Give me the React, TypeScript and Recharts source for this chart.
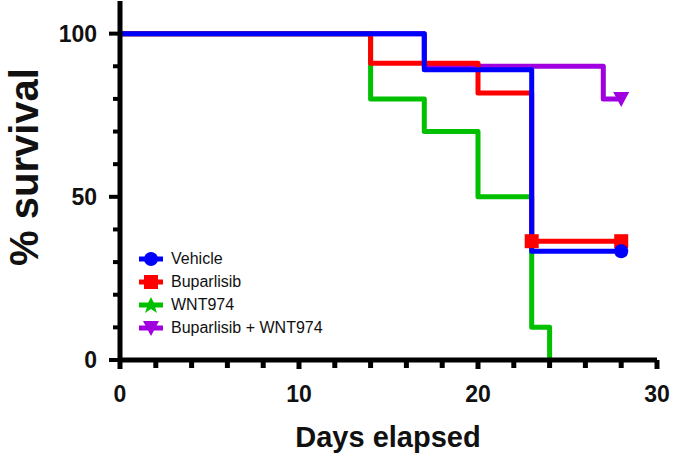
import React from "react";
import { LineChart, Line, XAxis, YAxis, Label } from "recharts";

// days on x, % survival on y (Kaplan-Meier steps)
const X_TICKS = [0, 2, 4, 6, 8, 10, 12, 14, 16, 18, 20, 22, 24, 26, 28, 30];
const Y_TICKS = [0, 10, 20, 30, 40, 50, 60, 70, 80, 90, 100];

const vehicleDays = [0, 17, 23, 28];
const vehicleSurv = [100, 88.9, 33.3, 33.3];
const vehicleMarks = [false, false, false, true];

const buparDays = [0, 14, 20, 23, 28];
const buparSurv = [100, 90.9, 81.8, 36.4, 36.4];
const buparMarks = [false, false, false, true, true];

const wntDays = [0, 14, 17, 20, 23, 24];
const wntSurv = [100, 80, 70, 50, 10, 0];

const comboDays = [0, 17, 27, 28];
const comboSurv = [100, 90, 80, 80];
const comboMarks = [false, false, false, true];

const build = (days: number[], surv: number[], marks?: boolean[]) =>
  days.map((d, i) => ({ day: d, surv: surv[i], mark: marks ? marks[i] : false }));

const FONT = '"Liberation Sans", Arial, Helvetica, sans-serif';

const series = [
  { name: "Buparlisib + WNT974", color: "#a000e0", shape: "triangle", data: build(comboDays, comboSurv, comboMarks) },
  { name: "WNT974", color: "#00c000", shape: "star", data: build(wntDays, wntSurv) },
  { name: "Buparlisib", color: "#ff0000", shape: "square", data: build(buparDays, buparSurv, buparMarks) },
  { name: "Vehicle", color: "#0000ff", shape: "circle", data: build(vehicleDays, vehicleSurv, vehicleMarks) },
];

const legendOrder = ["Vehicle", "Buparlisib", "WNT974", "Buparlisib + WNT974"];

function Marker({ shape, color, cx, cy }: { shape: string; color: string; cx: number; cy: number }) {
  if (shape === "circle") return <circle cx={cx} cy={cy} r={7} fill={color} />;
  if (shape === "square") return <rect x={cx - 7} y={cy - 7} width={14} height={14} fill={color} />;
  if (shape === "triangle")
    return <polygon points={`${cx - 8},${cy - 7} ${cx + 8},${cy - 7} ${cx},${cy + 8}`} fill={color} />;
  return (
    <polygon
      points={`${cx},${cy - 8} ${cx + 3},${cy - 2} ${cx + 9},${cy - 2} ${cx + 4},${cy + 2} ${cx + 6},${cy + 8} ${cx},${cy + 4} ${cx - 6},${cy + 8} ${cx - 4},${cy + 2} ${cx - 9},${cy - 2} ${cx - 3},${cy - 2}`}
      fill={color}
    />
  );
}

const makeDot = (shape: string, color: string) => (props: any) => {
  const { cx, cy, payload, index } = props;
  if (!payload || !payload.mark) return <g key={`d${index}`} />;
  return (
    <g key={`d${index}`}>
      <Marker shape={shape} color={color} cx={cx} cy={cy} />
    </g>
  );
};

function XTick(props: any) {
  const { x, y, payload } = props;
  const major = payload.value % 10 === 0;
  return (
    <g>
      <line x1={x} y1={y} x2={x} y2={y + (major ? 9 : 8)} stroke="#000" strokeWidth={5} />
      {major && (
        <text x={x} y={y + 42} textAnchor="middle" fontFamily={FONT} fontWeight="bold" fontSize={23} fill="#111">
          {payload.value}
        </text>
      )}
    </g>
  );
}

function YTick(props: any) {
  const { x, y, payload } = props;
  const major = payload.value % 50 === 0;
  return (
    <g>
      <line x1={x} y1={y} x2={x - (major ? 11 : 7)} y2={y} stroke="#000" strokeWidth={4} />
      {major && (
        <text x={x - 23} y={y + 8} textAnchor="end" fontFamily={FONT} fontWeight="bold" fontSize={23} fill="#111">
          {payload.value}
        </text>
      )}
    </g>
  );
}

function LegendIcon({ shape, color }: { shape: string; color: string }) {
  return (
    <svg width={28} height={18} style={{ display: "block" }}>
      <line x1={2} y1={9} x2={26} y2={9} stroke={color} strokeWidth={5} />
      <Marker shape={shape} color={color} cx={14} cy={9} />
    </svg>
  );
}

export default function App() {
  return (
    <div style={{ position: "absolute", left: 0, top: 0, width: 675, height: 458, background: "#fff" }}>
      <LineChart width={675} height={458} margin={{ top: 1, right: 18, left: 0, bottom: 0 }}>
        <XAxis
          dataKey="day"
          type="number"
          domain={[0, 30]}
          ticks={X_TICKS}
          interval={0}
          height={98}
          tickSize={0}
          tickMargin={0}
          tickLine={false}
          tick={<XTick />}
          axisLine={{ stroke: "#000", strokeWidth: 5 }}
          allowDuplicatedCategory={false}
        >
          <Label
            content={() => (
              <text x={388} y={447} textAnchor="middle" fontFamily={FONT} fontWeight="bold" fontSize={29} fill="#111">
                Days elapsed
              </text>
            )}
          />
        </XAxis>
        <YAxis
          type="number"
          domain={[0, 110]}
          ticks={Y_TICKS}
          interval={0}
          width={120}
          tickSize={0}
          tickMargin={0}
          tickLine={false}
          tick={<YTick />}
          axisLine={{ stroke: "#000", strokeWidth: 5 }}
        >
          <Label
            content={() => (
              <text
                x={38}
                y={167}
                transform="rotate(-90 38 167)"
                textAnchor="middle"
                fontFamily={FONT}
                fontWeight="bold"
                fontSize={40}
                fill="#111"
              >
                % survival
              </text>
            )}
          />
        </YAxis>
        {series.map((s) => (
          <Line
            key={s.name}
            data={s.data}
            dataKey="surv"
            name={s.name}
            type="stepAfter"
            stroke={s.color}
            strokeWidth={5}
            strokeLinejoin="round"
            dot={makeDot(s.shape, s.color)}
            activeDot={false}
            isAnimationActive={false}
          />
        ))}
      </LineChart>
      <div style={{ position: "absolute", left: 137, top: 247, fontFamily: FONT, fontSize: 16, color: "#111" }}>
        {legendOrder.map((n) => {
          const s = series.find((q) => q.name === n)!;
          return (
            <div key={n} style={{ display: "flex", alignItems: "center", height: 23 }}>
              <LegendIcon shape={s.shape} color={s.color} />
              <span style={{ marginLeft: 6 }}>{n}</span>
            </div>
          );
        })}
      </div>
    </div>
  );
}
